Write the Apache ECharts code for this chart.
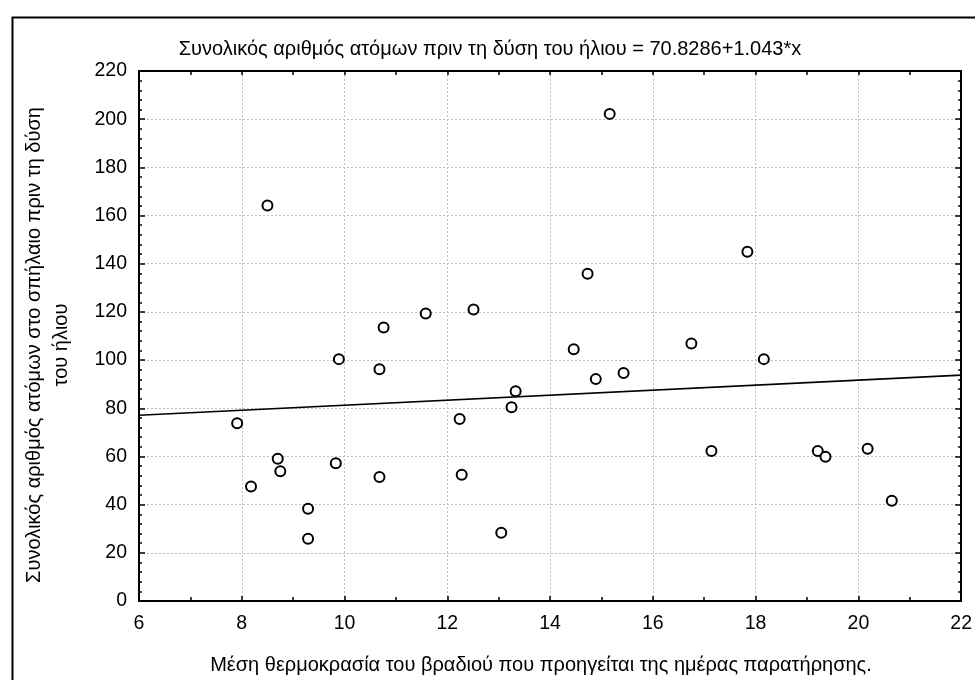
<!DOCTYPE html>
<html>
<head>
<meta charset="utf-8">
<script src="https://cdn.jsdelivr.net/npm/echarts@6/dist/echarts.min.js"></script>
<style>
html,body{margin:0;padding:0;background:#fff;}
#c{width:975px;height:680px;}
</style>
</head>
<body>
<div id="c"></div>
<script>
// Data
const tempX = [7.91, 8.18, 8.70, 8.75, 9.29, 9.29, 9.83, 9.89, 10.68, 10.68, 10.76, 11.58, 12.51, 12.24, 12.28, 13.05, 13.25, 13.33, 8.50,
               14.46, 14.73, 14.89, 15.16, 15.43, 16.75, 17.14, 17.84, 18.16, 19.21, 19.36, 20.18, 20.65];
const countY = [73.8, 47.5, 59.0, 53.9, 38.3, 25.8, 57.2, 100.4, 96.2, 51.5, 113.5, 119.3, 121.0, 75.5, 52.4, 28.3, 80.4, 87.1, 164.2,
                104.5, 135.8, 92.1, 202.2, 94.6, 106.9, 62.3, 145.0, 100.4, 62.3, 59.9, 63.2, 41.6];
// Regression line endpoints (70.8286 + 1.043*x at x = 6 and x = 22)
const fitX = [6, 22];
const fitY = [77.09, 93.77];
const xTicks = [6, 8, 10, 12, 14, 16, 18, 20, 22];
const yTicks = [0, 20, 40, 60, 80, 100, 120, 140, 160, 180, 200, 220];

const titleText = 'Συνολικός αριθμός ατόμων πριν τη δύση του ήλιου = 70.8286+1.043*x';
const xName = 'Μέση θερμοκρασία του βραδιού που προηγείται της ημέρας παρατήρησης.';
const yName = 'Συνολικός αριθμός ατόμων στο σπήλαιο πριν τη δύση\nτου ήλιου';

const FONT = '"Liberation Sans", Arial, sans-serif';
const chart = echarts.init(document.getElementById('c'), null, {renderer: 'canvas'});

const scatterData = tempX.map((x, i) => [x, countY[i]]);
const fitData = fitX.map((x, i) => [x, fitY[i]]);

const gridLine = {show: true, lineStyle: {color: '#bdbdbd', type: [2, 2], width: 1}};

chart.setOption({
  animation: false,
  backgroundColor: '#fff',
  textStyle: {fontFamily: FONT},
  title: {
    text: titleText,
    left: 485, top: 34, textAlign: 'center',
    textStyle: {fontFamily: FONT, fontSize: 20, fontWeight: 'normal', color: '#000'}
  },
  grid: {left: 139, top: 71, right: 13, bottom: 79, containLabel: false},
  xAxis: [{
    type: 'value', position: 'bottom', min: xTicks[0], max: xTicks[xTicks.length - 1], interval: 2,
    axisLine: {show: true, onZero: false, lineStyle: {color: '#000', width: 2}},
    axisTick: {show: true, inside: true, length: 5, lineStyle: {color: '#000', width: 1.5}},
    minorTick: {show: true, splitNumber: 2, length: 4, lineStyle: {color: '#000', width: 1.5}},
    axisLabel: {color: '#000', fontSize: 19.5, fontFamily: FONT, margin: 13},
    splitLine: gridLine
  }, {
    type: 'value', position: 'top', min: xTicks[0], max: xTicks[xTicks.length - 1], interval: 2,
    axisLine: {show: true, onZero: false, lineStyle: {color: '#000', width: 2}},
    axisTick: {show: true, inside: true, length: 4, lineStyle: {color: '#000', width: 1.5}},
    minorTick: {show: true, splitNumber: 2, length: 4, lineStyle: {color: '#000', width: 1.5}},
    axisLabel: {show: false},
    splitLine: {show: false}
  }],
  yAxis: [{
    type: 'value', position: 'left', min: yTicks[0], max: yTicks[yTicks.length - 1], interval: 20,
    axisLine: {show: true, onZero: false, lineStyle: {color: '#000', width: 2}},
    axisTick: {show: true, inside: true, length: 6, lineStyle: {color: '#000', width: 1.5}},
    minorTick: {show: true, splitNumber: 5, length: 3, lineStyle: {color: '#000', width: 1.5}},
    axisLabel: {color: '#000', fontSize: 19.5, fontFamily: FONT, margin: 12},
    splitLine: gridLine
  }, {
    type: 'value', position: 'right', min: yTicks[0], max: yTicks[yTicks.length - 1], interval: 20,
    axisLine: {show: true, onZero: false, lineStyle: {color: '#000', width: 2}},
    axisTick: {show: true, inside: true, length: 6, lineStyle: {color: '#000', width: 1.5}},
    minorTick: {show: true, splitNumber: 5, length: 3, lineStyle: {color: '#000', width: 1.5}},
    axisLabel: {show: false},
    splitLine: {show: false}
  }],
  series: [{
    type: 'line', xAxisIndex: 0, yAxisIndex: 0, data: fitData,
    showSymbol: false, symbol: 'none',
    lineStyle: {color: '#000', width: 1.6}, z: 3
  }, {
    type: 'scatter', xAxisIndex: 0, yAxisIndex: 0, data: scatterData,
    symbol: 'circle', symbolSize: 10,
    itemStyle: {color: '#fff', borderColor: '#000', borderWidth: 2, opacity: 1}, z: 4
  }],
  graphic: [{
    type: 'rect', left: 10, top: 15, z: 100, silent: true,
    shape: {x: 0, y: 0, width: 1000, height: 700},
    style: {fill: 'none', stroke: '#000', lineWidth: 2}
  }, {
    type: 'text', x: 541, y: 665, z: 100, silent: true,
    style: {text: xName, fontSize: 20, fontFamily: FONT, fill: '#000', align: 'center', verticalAlign: 'middle'}
  }, {
    type: 'text', x: 48, y: 345, rotation: Math.PI / 2, z: 100, silent: true,
    style: {text: yName, fontSize: 20, fontFamily: FONT, fill: '#000', align: 'center', verticalAlign: 'middle', lineHeight: 27}
  }]
});
</script>
</body>
</html>
